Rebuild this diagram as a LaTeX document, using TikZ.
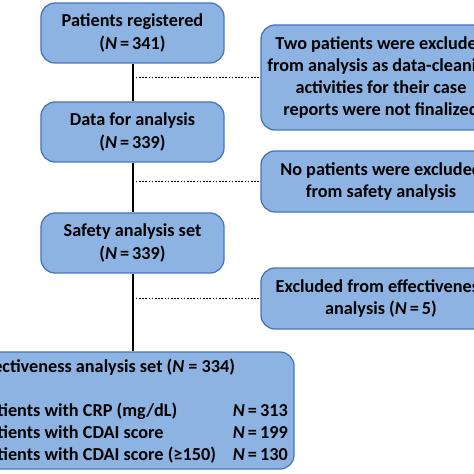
\documentclass[tikz,border=0pt]{standalone}
\usepackage{fontspec}
\setmainfont{Carlito}
\definecolor{boxfill}{HTML}{8DB3E2}
\definecolor{boxline}{HTML}{4677BA}
\begin{document}
\begin{tikzpicture}[x=1bp,y=-1bp,
  fbox/.style={draw=boxline, line width=1.3bp, fill=boxfill, rounded corners=14bp,
    inner sep=0pt, align=center, font=\fontsize{18.3}{23.5}\selectfont\bfseries},
  trunk/.style={line width=2bp, black},
  dots/.style={line width=1.8bp, black, dash pattern=on 1.6bp off 1.6bp},
  txt/.style={inner sep=0pt, font=\fontsize{18.3}{22}\selectfont\bfseries}]
\useasboundingbox (0,0) rectangle (474,474);
\clip (0,0) rectangle (474,474);
\node[fbox, minimum width=183bp, minimum height=60bp] (b1) at (132.5,33) {Patients registered\\(\textit{N}\,=\,341)};
\node[fbox, minimum width=183bp, minimum height=60bp] (b2) at (132.5,132) {Data for analysis\\(\textit{N}\,=\,339)};
\node[fbox, minimum width=183bp, minimum height=60bp] (b3) at (132.5,243) {Safety analysis set\\(\textit{N}\,=\,339)};
\node[fbox, minimum width=340bp, minimum height=117bp] (b4) at (124,410.5) {};
\node[fbox, minimum width=240bp, minimum height=105bp, font=\fontsize{18.3}{22}\selectfont\bfseries] (r1) at (381,77.5) {Two patients were excluded\\from analysis as data-cleaning\\activities for their case\\reports were not finalized};
\node[fbox, minimum width=240bp, minimum height=61bp, font=\fontsize{18.3}{22}\selectfont\bfseries] (r2) at (381,181.5) {No patients were excluded\\from safety analysis};
\node[fbox, minimum width=240bp, minimum height=61bp, font=\fontsize{18.3}{22}\selectfont\bfseries] (r3) at (381,298.5) {Excluded from effectiveness\\analysis (\textit{N}\,=\,5)};
\draw[trunk] (b1.south) -- (b2.north);
\draw[trunk] (b2.south) -- (b3.north);
\draw[trunk] (b3.south) -- (b3.south |- b4.north);
\draw[dots] (r1.west -| b1.south) -- (r1.west);
\draw[dots] (r2.west -| b1.south) -- (r2.west);
\draw[dots] (r3.west -| b1.south) -- (r3.west);
\node[txt, anchor=base west] (t0) at (-26,372) {Effectiveness analysis set (\textit{N}\ =\ 334)};
\node[txt, anchor=base west] (t1) at (-21,416) {Patients with CRP (mg/dL)};
\node[txt, anchor=base west] (t2) at (-21,438) {Patients with CDAI score};
\node[txt, anchor=base west] (t3) at (-21,460) {Patients with CDAI score (≥150)};
\node[txt, anchor=base east] (n1) at (288,416) {\textit{N}\,=\,313};
\node[txt, anchor=base east] (n2) at (288,438) {\textit{N}\,=\,199};
\node[txt, anchor=base east] (n3) at (288,460) {\textit{N}\,=\,130};
\end{tikzpicture}
\end{document}
